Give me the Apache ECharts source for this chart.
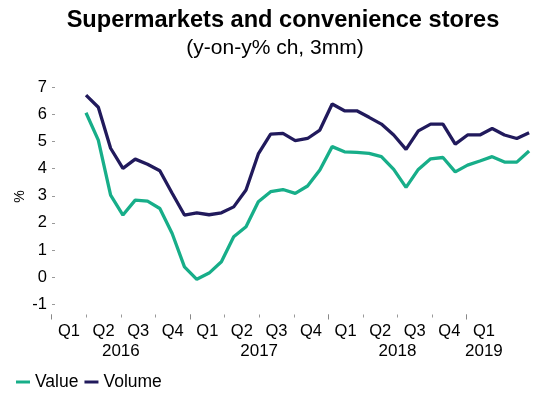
<!DOCTYPE html>
<html>
<head>
<meta charset="utf-8">
<script src="https://cdn.jsdelivr.net/npm/echarts@6/dist/echarts.min.js"></script>
<style>
  html, body { margin: 0; padding: 0; background: #fff; }
  #chart { width: 559px; height: 394px; }
</style>
</head>
<body>
<div id="chart"></div>
<script>
// Monthly readings, Mar 2016 - Mar 2019
const months = [
  'Mar-16','Apr-16','May-16','Jun-16','Jul-16','Aug-16','Sep-16','Oct-16','Nov-16','Dec-16',
  'Jan-17','Feb-17','Mar-17','Apr-17','May-17','Jun-17','Jul-17','Aug-17','Sep-17','Oct-17','Nov-17','Dec-17',
  'Jan-18','Feb-18','Mar-18','Apr-18','May-18','Jun-18','Jul-18','Aug-18','Sep-18','Oct-18','Nov-18','Dec-18',
  'Jan-19','Feb-19','Mar-19'
];
const valueSeries = [
  6.06, 5.05, 3.02, 2.29, 2.84, 2.80, 2.53, 1.61, 0.38, -0.08,
  0.15, 0.57, 1.49, 1.86, 2.78, 3.15, 3.23, 3.09, 3.36, 3.95, 4.81, 4.62,
  4.60, 4.56, 4.44, 3.97, 3.31, 3.97, 4.36, 4.41, 3.88, 4.13, 4.28, 4.44,
  4.24, 4.24, 4.65
];
const volumeSeries = [
  6.71, 6.26, 4.75, 4.01, 4.35, 4.16, 3.92, 3.09, 2.29, 2.37,
  2.30, 2.37, 2.59, 3.21, 4.54, 5.27, 5.30, 5.03, 5.11, 5.42, 6.38, 6.13,
  6.13, 5.89, 5.64, 5.24, 4.71, 5.39, 5.64, 5.64, 4.90, 5.24, 5.24, 5.48,
  5.24, 5.11, 5.32
];
const quarterLabels = ['Q1','Q2','Q3','Q4','Q1','Q2','Q3','Q4','Q1','Q2','Q3','Q4','Q1'];
const yearLabels = ['2016', '2017', '2018', '2019'];

const FONT = '"Liberation Sans", Arial, Helvetica, sans-serif';
const GREEN = '#17ae89';
const NAVY = '#211a5c';

// quarter slot (in quarter units) where each year caption sits
const yearSlots = [2, 6, 10, 12.5];

const chart = echarts.init(document.getElementById('chart'), null, { renderer: 'canvas' });

const hiddenY = (gi) => ({ gridIndex: gi, type: 'value', show: false, min: 0, max: 1 });

chart.setOption({
  animation: false,
  backgroundColor: '#fff',
  graphic: [
    { type: 'text', x: 283, y: 20, style: {
        text: 'Supermarkets and convenience stores', fill: '#000',
        font: 'bold 23.6px ' + FONT, align: 'center', verticalAlign: 'middle' } },
    { type: 'text', x: 275, y: 48, style: {
        text: '(y-on-y% ch, 3mm)', fill: '#000',
        font: '21px ' + FONT, align: 'center', verticalAlign: 'middle' } },
    // unit caption beside the value axis
    { type: 'text', x: 20.5, y: 196.5, rotation: Math.PI / 2, style: {
        text: '%', fill: '#000',
        font: '14px ' + FONT, align: 'center', verticalAlign: 'middle' } }
  ],
  legend: {
    data: ['Value', 'Volume'],
    left: 16, top: 373, padding: 0,
    icon: 'rect', itemWidth: 14, itemHeight: 3, itemGap: 6,
    textStyle: { fontFamily: FONT, fontSize: 17.5, color: '#000' }
  },
  grid: [
    // plotting area for the two lines
    { left: 86, right: 29.9, top: 87.2, bottom: 89.7 },
    // quarter / year captions
    { left: 51.7, right: 57.8, top: 87.2, bottom: 79.5 },
    // quarter tick marks
    { left: 51.7, right: 92.3, top: 87.2, bottom: 79.5 }
  ],
  xAxis: [
    { gridIndex: 0, type: 'category', data: months, boundaryGap: false, show: false },
    { gridIndex: 1, type: 'value', position: 'bottom', min: 0, max: 13, interval: 0.5,
      axisLine: { show: false }, axisTick: { show: false }, splitLine: { show: false },
      axisLabel: { margin: 8, fontFamily: FONT, fontSize: 16.5, color: '#000',
        showMinLabel: true, showMaxLabel: true,
        formatter: (v) => (Math.abs(v % 1 - 0.5) < 1e-6 ? quarterLabels[Math.floor(v)] : '') } },
    { gridIndex: 1, type: 'value', position: 'bottom', min: 0, max: 13, interval: 0.5,
      axisLine: { show: false }, axisTick: { show: false }, splitLine: { show: false },
      axisLabel: { margin: 28, fontFamily: FONT, fontSize: 17, color: '#000',
        formatter: (v) => {
          const k = yearSlots.findIndex((s) => Math.abs(s - v) < 1e-6);
          return k >= 0 ? yearLabels[k] : '';
        } } },
    { gridIndex: 2, type: 'value', position: 'bottom', min: 0, max: 12, interval: 1,
      axisLine: { show: false }, splitLine: { show: false }, axisLabel: { show: false },
      axisTick: { show: true, length: 3, lineStyle: { color: '#999', width: 1 } } },
    { gridIndex: 2, type: 'value', position: 'bottom', min: 0, max: 12, interval: 4,
      axisLine: { show: false }, splitLine: { show: false }, axisLabel: { show: false },
      axisTick: { show: true, length: 5, lineStyle: { color: '#888', width: 1 } } }
  ],
  yAxis: [
    { gridIndex: 0, type: 'value', min: -1, max: 7, interval: 1, offset: 34,
      axisLine: { show: false }, splitLine: { show: false },
      axisTick: { show: true, inside: true, length: 3, lineStyle: { color: '#999' } },
      axisLabel: { margin: 5, fontFamily: FONT, fontSize: 16.5, color: '#000' } },
    hiddenY(1),
    hiddenY(2)
  ],
  series: [
    { name: 'Value', type: 'line', xAxisIndex: 0, yAxisIndex: 0, data: valueSeries,
      symbol: 'none', color: GREEN, lineStyle: { width: 3.3, color: GREEN } },
    { name: 'Volume', type: 'line', xAxisIndex: 0, yAxisIndex: 0, data: volumeSeries,
      symbol: 'none', color: NAVY, lineStyle: { width: 3.3, color: NAVY } }
  ]
});
</script>
</body>
</html>
